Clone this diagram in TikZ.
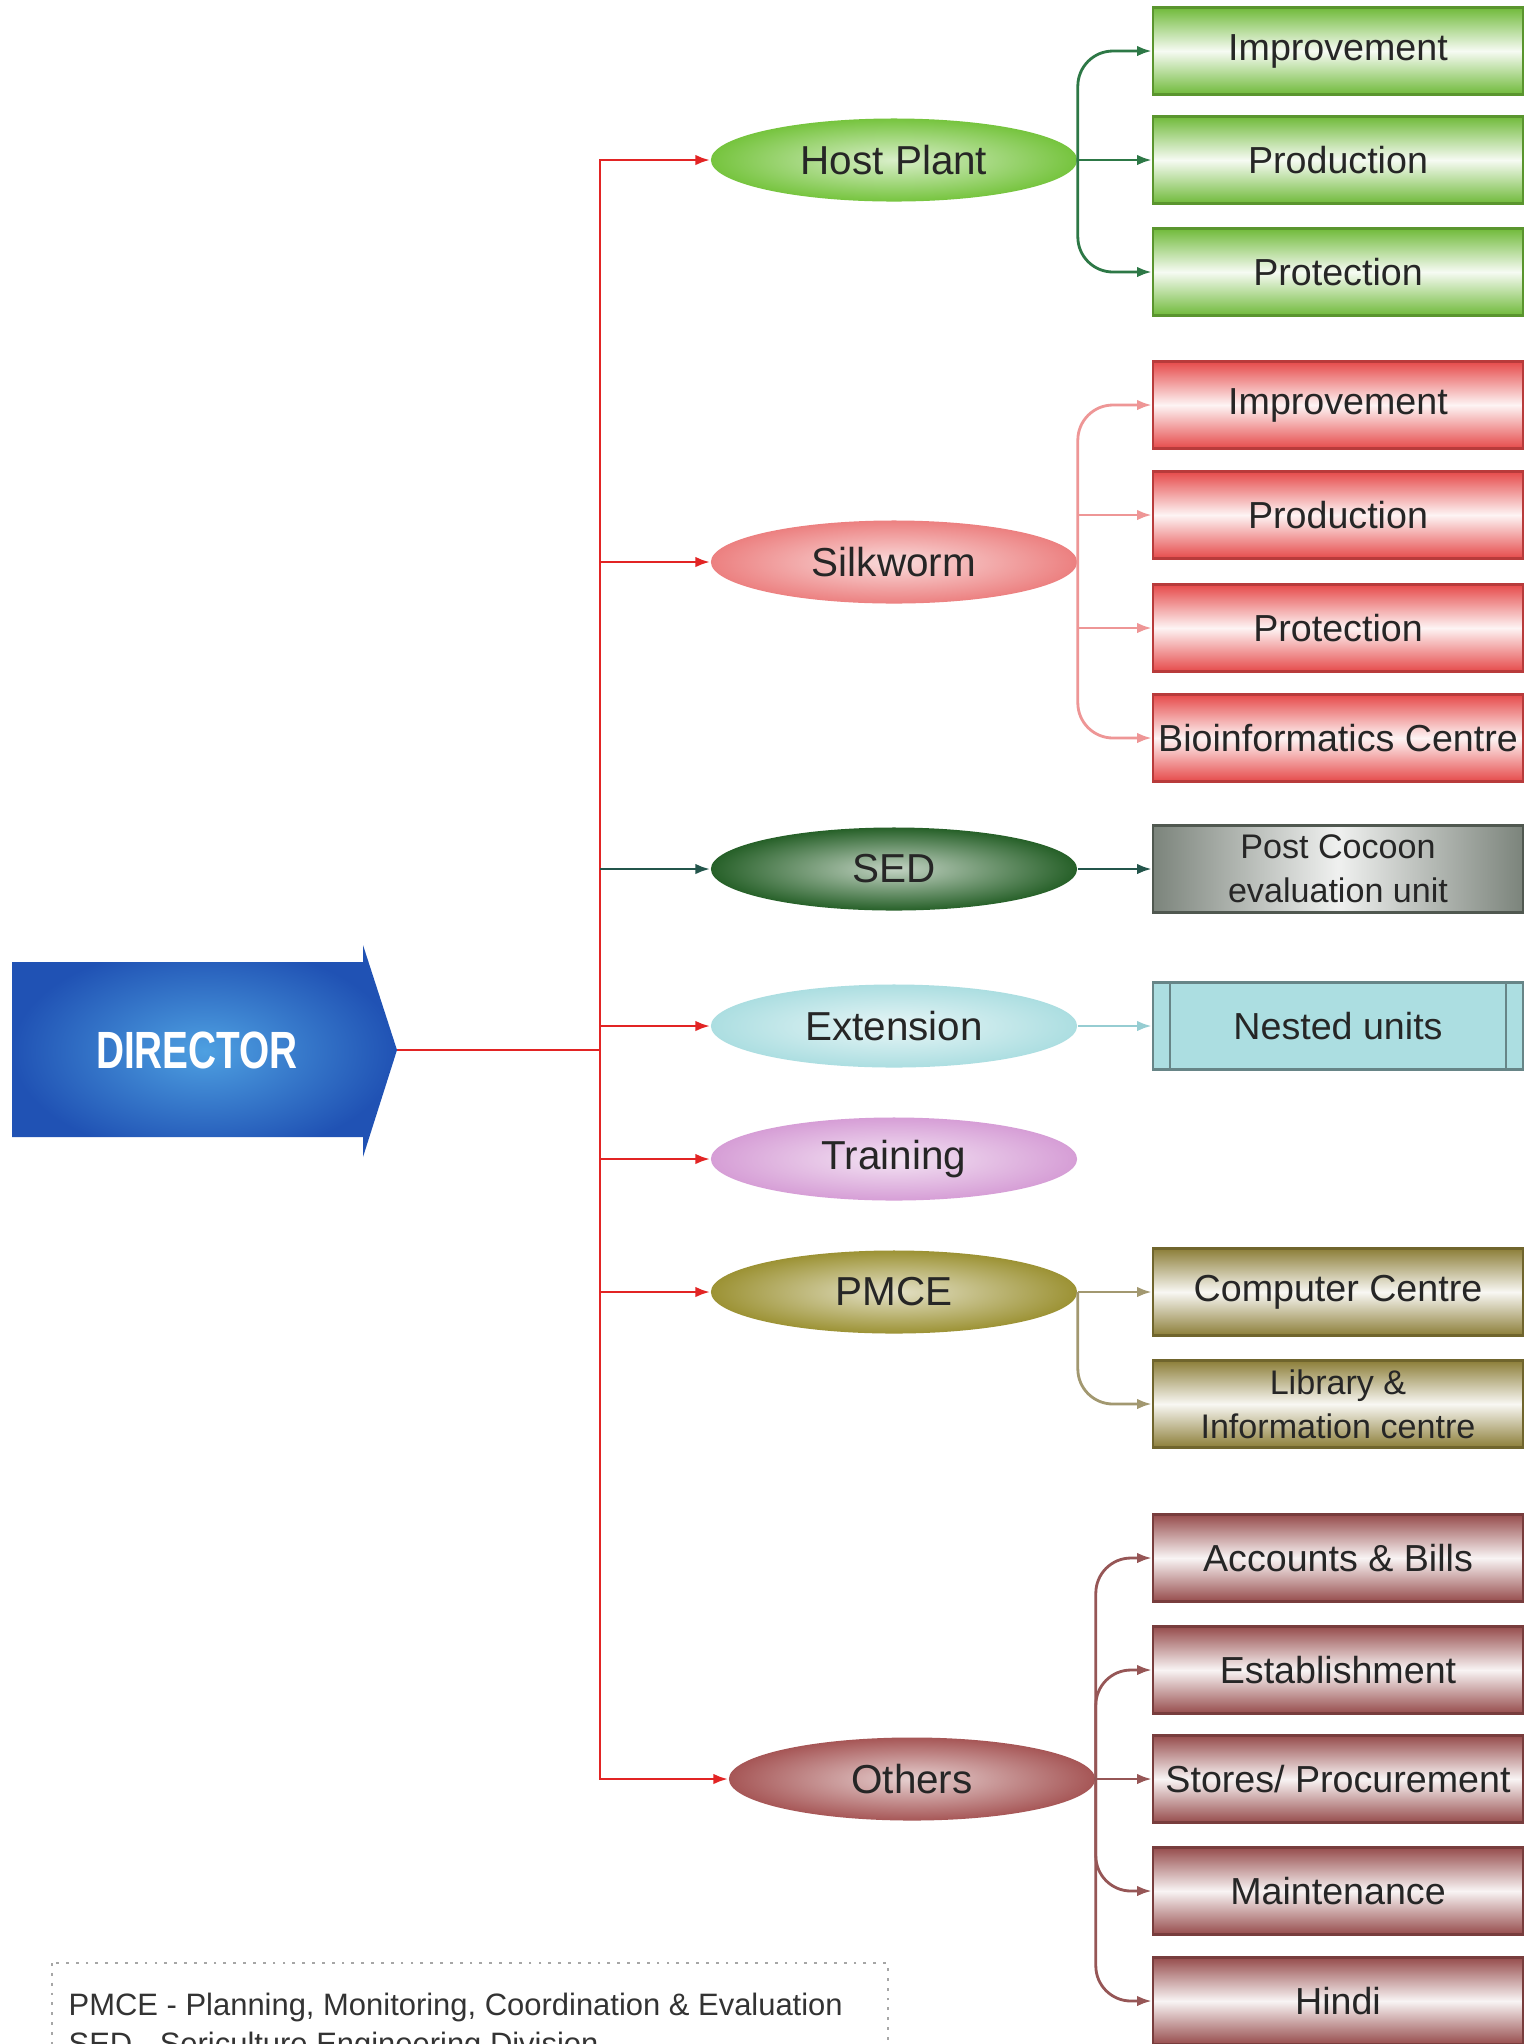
\documentclass[tikz,border=0pt]{standalone}
\usepackage{fontspec}
\setmainfont{Liberation Sans}
\newfontfamily\dirfont[FakeStretch=0.74]{Liberation Sans}
\usetikzlibrary{shapes.geometric,arrows.meta}

\definecolor{trunkred}{RGB}{226,36,36}
\definecolor{dirblue}{RGB}{32,82,180}
\definecolor{dirlight}{RGB}{78,160,225}
\definecolor{hpgreen}{RGB}{118,196,62}
\definecolor{hpbox}{RGB}{112,186,58}
\definecolor{hpline}{RGB}{45,120,70}
\definecolor{swred}{RGB}{236,128,128}
\definecolor{swbox}{RGB}{230,74,74}
\definecolor{swline}{RGB}{238,150,150}
\definecolor{sedgreen}{RGB}{38,96,40}
\definecolor{sedgrey}{RGB}{100,110,100}
\definecolor{sedline}{RGB}{35,85,75}
\definecolor{extcyan}{RGB}{172,222,225}
\definecolor{extline}{RGB}{150,205,210}
\definecolor{trainpink}{RGB}{214,158,214}
\definecolor{pmceolive}{RGB}{156,146,52}
\definecolor{pmcebox}{RGB}{140,126,56}
\definecolor{pmceline}{RGB}{162,152,112}
\definecolor{othbrown}{RGB}{166,86,86}
\definecolor{othbox}{RGB}{150,76,76}
\definecolor{othline}{RGB}{150,86,86}

\begin{document}
\begin{tikzpicture}[x=0.01cm,y=-0.01cm,
    unit/.style={ellipse, minimum width=3.66cm, minimum height=0.83cm, inner sep=0pt,
        inner color=white!72!#1, outer color=#1, font=\fontsize{11.5}{13}\selectfont, text=black!85},
    sub/.style={rectangle, minimum width=3.70cm, minimum height=0.87cm, inner sep=0pt, line width=0.6pt,
        draw=#1!80!black, top color=#1, bottom color=#1, middle color=white!94!#1,
        align=center, font=\fontsize{10.7}{12}\selectfont, text=black!85},
    subtwo/.style={sub=#1, font=\fontsize{9.7}{12.4}\selectfont},
    link/.style={line width=0.8pt, -{Latex[length=4.2pt,width=3pt]}},
    curvelink/.style={link, rounded corners=10pt}]
    \useasboundingbox (0,0) rectangle (1538,2044);
    \clip (0,0) rectangle (1538,2044);
    \fill[white] (0,0) rectangle (1538,2044);

    \shade[inner color=dirlight, outer color=dirblue] (12,962) -- (363,962) -- (363,945) -- (397,1050)
        -- (363,1157) -- (363,1137) -- (12,1137) -- cycle;
    \node[text=white, font=\dirfont\bfseries\fontsize{14.9}{16}\selectfont] (dir) at (197,1050) {DIRECTOR};
    \coordinate (dirtip) at (397,1050);
    \coordinate (trunk) at (600,1050);

    \node[unit=hpgreen] (host) at (894,160) {Host Plant};
    \node[unit=swred] (silk) at (894,562) {Silkworm};
    \node[unit=sedgreen] (sed) at (894,869) {SED};
    \node[unit=extcyan] (ext) at (894,1026) {Extension};
    \node[unit=trainpink] (train) at (894,1159) {Training};
    \node[unit=pmceolive] (pmce) at (894,1292) {PMCE};
    \node[unit=othbrown] (oth) at (912,1779) {Others};

    \node[sub=hpbox] (hp1) at (1338,51) {Improvement};
    \node[sub=hpbox] (hp2) at (1338,160) {Production};
    \node[sub=hpbox] (hp3) at (1338,272) {Protection};
    \node[sub=swbox] (sw1) at (1338,405) {Improvement};
    \node[sub=swbox] (sw2) at (1338,515) {Production};
    \node[sub=swbox] (sw3) at (1338,628) {Protection};
    \node[sub=swbox] (sw4) at (1338,738) {Bioinformatics Centre};
    \node[subtwo=sedgrey, top color=white!94!sedgrey, bottom color=white!94!sedgrey, left color=sedgrey!85,
        right color=sedgrey!85, middle color=white!90!sedgrey] (pc) at (1338,869) {Post Cocoon\\evaluation unit};
    \node[sub=extcyan, fill=extcyan, draw=extcyan!60!black, shade=none] (nest) at (1338,1026) {Nested units};
    \draw[extcyan!60!black, line width=0.6pt] ([xshift=0.18cm]nest.north west) -- ([xshift=0.18cm]nest.south west)
        ([xshift=-0.18cm]nest.north east) -- ([xshift=-0.18cm]nest.south east);
    \node[sub=pmcebox] (cc) at (1338,1292) {Computer Centre};
    \node[subtwo=pmcebox] (lib) at (1338,1404) {Library \&\\Information centre};
    \node[sub=othbox] (ot1) at (1338,1558) {Accounts \& Bills};
    \node[sub=othbox] (ot2) at (1338,1670) {Establishment};
    \node[sub=othbox] (ot3) at (1338,1779) {Stores/ Procurement};
    \node[sub=othbox] (ot4) at (1338,1891) {Maintenance};
    \node[sub=othbox] (ot5) at (1338,2001) {Hindi};

    \draw[trunkred, line width=0.8pt] (dirtip) -- (trunk);
    \draw[link, trunkred] (trunk) |- (host.west);
    \draw[link, trunkred] (trunk) |- (silk.west);
    \draw[link, sedline] (sed.west -| trunk) -- (sed.west);
    \draw[link, trunkred] (trunk) |- (ext.west);
    \draw[link, trunkred] (trunk) |- (train.west);
    \draw[link, trunkred] (trunk) |- (pmce.west);
    \draw[link, trunkred] (trunk) |- (oth.west);

    \draw[curvelink, hpline] (host.east) |- (hp1.west);
    \draw[link, hpline] (host.east) -- (hp2.west);
    \draw[curvelink, hpline] (host.east) |- (hp3.west);
    \draw[curvelink, swline] (silk.east) |- (sw1.west);
    \draw[link, swline] (sw2.west -| silk.east) -- (sw2.west);
    \draw[link, swline] (sw3.west -| silk.east) -- (sw3.west);
    \draw[curvelink, swline] (silk.east) |- (sw4.west);
    \draw[link, sedline] (sed.east) -- (pc.west);
    \draw[link, extline] (ext.east) -- (nest.west);
    \draw[link, pmceline] (pmce.east) -- (cc.west);
    \draw[curvelink, pmceline] (pmce.east) |- (lib.west);
    \draw[curvelink, othline] (oth.east) |- (ot1.west);
    \draw[curvelink, othline] (oth.east) |- (ot2.west);
    \draw[link, othline] (oth.east) -- (ot3.west);
    \draw[curvelink, othline] (oth.east) |- (ot4.west);
    \draw[curvelink, othline] (oth.east) |- (ot5.west);

    \draw[black!35, dotted, line width=0.8pt] (52,1963) rectangle (888,2120);
    \node[anchor=north west, inner sep=0pt, align=left, text=black!80, font=\fontsize{8.8}{11.1}\selectfont] (legend)
        at (68,1992) {PMCE - Planning, Monitoring, Coordination \& Evaluation\\SED - Sericulture Engineering Division};
\end{tikzpicture}
\end{document}
